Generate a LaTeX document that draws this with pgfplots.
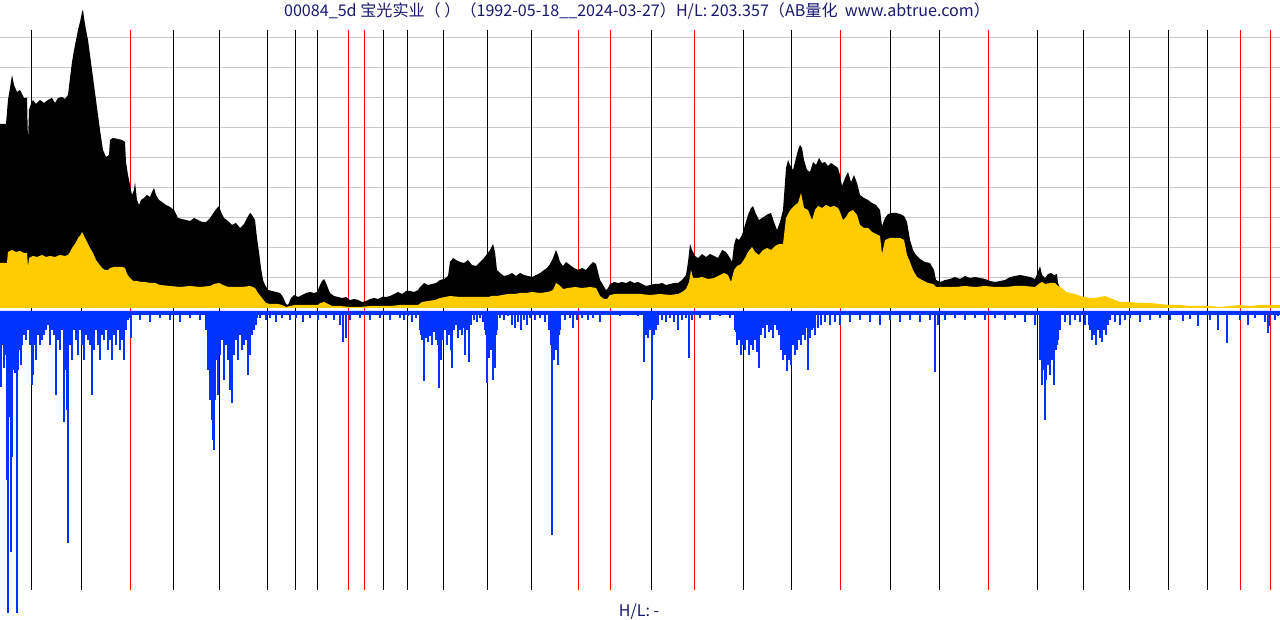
\documentclass[border=0pt]{standalone}
\usepackage{pgfplots}
\usepackage{pgfplotstable}
\pgfplotsset{compat=1.18}
\usepackage{fontspec}
\setmainfont{Noto Sans CJK SC}
\definecolor{ttl}{RGB}{25,25,112}
\definecolor{yel}{RGB}{255,204,0}
\definecolor{blu}{RGB}{0,51,255}
\definecolor{grd}{RGB}{200,200,200}
\definecolor{vred}{RGB}{255,0,0}

\pgfplotstableread{
x py
0 308
0 124
6 124
8 100
10 88
12 75
14 85
17 92
20 90
24 98
27 98
28 142
29 110
31 104
33 100
36 104
40 100
44 103
48 100
52 98
55 103
58 98
62 97
65 99
68 95
70 78
72 62
74 50
76 40
78 30
80 22
82 12
83 10
84 18
86 30
88 40
90 55
92 70
94 85
96 100
98 115
100 130
103 150
106 157
109 155
110 140
113 138
118 139
122 140
125 142
126 162
128 175
130 185
132 195
134 190
135 182
137 200
139 205
141 200
144 198
147 195
150 197
152 192
154 188
156 195
159 200
162 202
166 205
170 207
174 210
178 218
182 219
186 220
190 221
194 218
198 220
202 222
206 222
210 218
214 212
217 208
219 206
221 212
224 218
228 221
232 225
236 223
240 228
244 224
247 218
250 213
252 215
255 220
257 238
259 252
261 268
263 280
265 285
268 290
272 291
276 292
280 293
283 297
286 304
288 305
291 298
294 295
298 297
302 295
306 293
310 292
314 293
317 292
320 285
322 281
324 279
326 283
328 288
330 293
334 296
338 297
342 298
346 297
350 300
354 299
358 300
362 302
366 301
370 299
374 298
378 299
382 297
386 297
390 296
394 294
398 292
402 294
406 291
410 291
414 292
418 290
420 287
424 283
428 285
432 284
436 283
440 280
444 279
448 276
450 262
453 258
456 260
460 262
464 263
468 260
472 265
476 266
480 262
484 258
487 254
490 250
493 244
495 252
497 270
500 273
504 276
508 275
512 273
516 276
520 273
524 275
528 276
532 277
536 275
540 273
544 270
547 268
550 264
553 258
556 250
558 255
560 262
563 266
566 262
570 265
574 268
578 270
582 268
586 270
590 265
593 262
596 264
598 272
600 280
603 285
606 290
608 288
610 284
614 282
618 283
622 282
626 283
630 281
634 283
638 282
642 284
646 286
650 285
654 284
658 284
662 283
666 285
670 284
674 283
678 283
682 280
686 275
688 262
690 244
692 250
695 256
698 258
702 254
706 257
710 254
714 256
718 258
722 250
726 252
730 258
732 262
734 245
736 238
739 240
742 235
745 225
748 215
751 208
753 206
756 214
759 220
762 218
765 216
768 214
771 213
774 222
777 230
780 222
783 210
786 168
788 160
790 165
793 170
796 158
798 150
800 145
802 148
804 160
807 170
810 172
813 162
816 165
819 158
822 163
825 162
828 166
831 163
834 165
838 168
840 175
842 186
845 178
848 172
851 182
854 175
857 183
860 195
864 198
868 200
872 203
876 205
880 210
882 226
885 218
888 214
892 213
896 213
900 214
904 216
907 222
910 240
913 250
916 255
920 259
925 262
930 263
934 270
936 280
940 282
945 280
950 279
955 277
960 279
965 276
970 278
975 277
980 278
985 279
990 281
995 282
1000 281
1005 280
1010 277
1015 276
1020 275
1025 276
1030 277
1035 279
1038 272
1040 266
1042 275
1045 278
1048 274
1051 273
1054 275
1057 274
1058 283
1060 288
1060 308
}\hightable

\pgfplotstableread{
x py
0 308
0 263
7 263
8 252
12 250
16 252
20 251
24 253
27 253
28 267
29 258
33 256
37 257
42 255
46 257
50 256
55 257
60 255
65 256
68 255
70 252
72 248
75 244
78 238
80 236
82 232
84 236
86 240
88 244
90 248
93 253
96 260
99 264
102 268
105 270
108 270
110 268
114 267
118 267
122 267
125 268
127 274
130 278
133 281
137 281
141 282
145 282
150 283
155 283
160 285
170 286
180 287
190 286
200 287
210 286
214 284
219 283
223 285
228 287
235 287
242 287
250 286
255 288
258 293
262 298
266 303
270 304
278 304
282 305
286 307
290 306
295 305
300 305
310 305
318 305
320 303
324 302
328 304
332 306
340 306
350 307
360 307
370 306
380 306
390 306
400 305
410 305
418 305
422 302
428 301
435 300
440 298
445 297
450 296
460 297
470 297
480 297
488 297
492 296
497 296
502 295
508 294
515 294
520 293
526 293
532 292
540 293
548 292
553 290
556 283
559 285
563 289
568 288
575 287
582 288
590 287
596 288
600 296
604 299
607 299
610 295
615 294
622 294
630 294
640 294
650 295
660 294
670 295
678 294
682 292
686 289
689 282
691 270
693 278
697 278
702 277
708 279
714 278
720 275
724 273
728 275
731 282
734 270
737 266
741 264
745 258
748 252
752 247
755 252
759 255
763 250
767 248
771 250
775 246
779 244
783 244
786 218
789 212
792 208
795 205
798 203
801 193
804 208
808 210
812 220
815 210
818 206
822 208
826 205
830 207
834 206
838 208
840 212
843 220
846 217
849 212
853 210
857 215
860 225
864 228
868 228
872 232
876 234
880 236
882 254
885 240
890 238
895 238
900 238
904 240
907 255
910 262
913 270
917 277
922 280
928 283
933 284
936 287
945 287
955 287
965 286
975 287
985 286
995 287
1005 287
1015 286
1025 286
1035 287
1040 283
1042 282
1045 284
1050 283
1055 283
1058 286
1062 288
1066 292
1070 293
1075 294
1080 296
1085 297
1090 298
1095 298
1100 297
1105 296
1110 298
1115 300
1120 302
1130 302
1140 303
1150 303
1160 304
1170 305
1180 305
1190 306
1200 306
1210 306
1220 307
1230 306
1240 305
1250 306
1260 305
1270 305
1280 305
1280 308
}\lowtable

% dense part of the turnover bars (step envelope)
\pgfplotstableread{
x py
0 311
0 340
7 340
7 345
22 345
22 327
30 327
30 333
45 333
45 322
62 322
62 330
75 330
75 325
125 325
125 318
130 318
130 311
205 311
205 330
210 330
210 345
218 345
218 340
232 340
232 330
250 330
250 318
258 318
258 311
420 311
420 335
430 335
430 330
445 330
445 322
468 322
468 311
485 311
485 335
497 335
497 311
550 311
550 335
560 335
560 311
645 311
645 325
658 325
658 311
735 311
735 332
760 332
760 325
780 325
780 338
800 338
800 328
815 328
815 311
1040 311
1040 345
1058 345
1058 311
1088 311
1088 325
1106 325
1106 311
1280 311
}\envtable

\pgfplotstableread{
x py
0 350
1 387
2 345
3 343
4 368
5 345
6 355
7 480
8 613
9 417
10 375
11 552
12 457
13 370
14 360
15 373
16 362
17 613
18 370
19 350
20 337
21 365
22 345
24 335
26 340
28 330
30 345
32 385
33 375
34 345
36 360
38 335
40 345
42 340
44 335
46 330
48 325
50 345
52 330
54 335
56 395
58 340
60 350
62 330
64 422
66 370
67 410
68 543
70 345
72 360
74 330
76 340
78 355
80 330
82 345
84 360
86 335
88 340
90 345
92 395
94 350
96 330
98 345
100 360
102 335
104 340
106 330
108 350
110 340
112 360
114 335
116 345
118 330
120 350
122 340
124 360
126 330
128 320
131 338
140 320
150 322
160 318
170 320
180 322
190 318
200 320
208 370
210 400
211 380
212 420
213 440
214 450
215 400
216 360
218 395
220 355
222 340
224 380
226 345
228 360
230 390
232 403
234 355
236 340
238 360
240 335
242 350
244 345
246 340
248 375
250 355
252 335
254 330
256 325
260 318
266 320
270 318
276 322
282 318
290 320
296 318
303 322
310 318
318 320
326 318
334 320
340 325
343 342
346 338
350 320
360 318
370 320
380 318
390 320
400 318
404 320
408 316
412 322
416 318
420 330
422 340
424 381
426 338
428 342
430 336
432 345
434 332
436 340
438 345
439 388
441 360
443 340
445 330
447 345
449 335
451 350
452 368
454 330
456 325
458 338
460 330
462 335
464 328
465 355
467 330
469 362
471 325
474 320
477 322
480 318
483 322
485 330
487 383
489 358
491 350
493 380
495 368
497 330
500 318
504 320
508 316
512 325
515 328
518 322
521 330
524 320
527 325
530 318
535 320
540 318
545 322
549 330
551 345
552 535
554 360
556 350
558 365
560 330
565 320
570 318
573 328
577 320
582 318
588 320
593 318
600 322
610 315
620 316
630 315
638 316
644 362
646 335
648 338
650 330
652 400
654 335
656 330
658 325
662 320
666 322
670 318
674 322
678 330
682 320
686 318
689 358
692 320
700 318
710 320
720 316
730 318
735 330
737 345
739 340
741 355
743 345
745 350
747 340
749 355
751 345
753 350
755 340
757 352
759 368
761 335
763 328
765 338
767 325
769 332
771 330
773 338
775 325
777 330
779 335
781 350
783 360
785 355
787 371
789 360
791 365
793 345
795 355
797 350
799 340
801 345
803 335
805 340
808 370
810 338
812 330
815 335
818 328
821 325
825 322
830 325
835 322
840 325
850 322
860 320
870 322
880 325
890 320
900 322
910 320
920 322
930 320
935 372
938 325
945 320
955 318
965 320
975 318
985 320
995 318
1005 320
1015 318
1025 322
1035 325
1040 360
1042 385
1044 370
1045 420
1046 380
1048 365
1050 375
1052 360
1054 385
1056 350
1058 340
1060 330
1065 322
1070 325
1075 320
1080 322
1085 325
1090 330
1092 340
1094 335
1096 345
1098 330
1100 338
1102 342
1104 330
1106 335
1108 325
1110 320
1115 322
1120 325
1125 320
1130 318
1140 322
1150 320
1160 318
1170 320
1183 321
1190 319
1198 326
1210 320
1218 330
1227 343
1240 320
1248 325
1255 318
1265 322
1268 333
1269 326
1275 320
1278 316
}\voltable

\begin{document}
\begin{tikzpicture}
\path[use as bounding box] (0,0) rectangle (1280pt,620pt);
\fill[white] (0,0) rectangle (1280pt,620pt);
\begin{axis}[
  at={(0,0)}, anchor=south west, scale only axis,
  width=1280pt, height=620pt,
  xmin=0, xmax=1280, ymin=0, ymax=620, y dir=reverse,
  hide axis, clip=false,
]
% horizontal grid
\foreach \g in {38,68,98,128,158,188,218,248,278} {
  \edef\tmp{\noexpand\draw[grd, line width=1pt] (axis cs:0,\g) -- (axis cs:1280,\g);}
  \tmp
}
% vertical year lines
\foreach \v in {31,81,173,219,267,295,317,383,407,443,487,531,651,743,791,890,939,1037,1083,1129,1168,1207} {
  \edef\tmp{\noexpand\draw[black, line width=1pt] (axis cs:\v,30) -- (axis cs:\v,590);}
  \tmp
}
\foreach \v in {130,348,364,578,610,694,840,988,1240,1270} {
  \edef\tmp{\noexpand\draw[vred, line width=1pt] (axis cs:\v,30) -- (axis cs:\v,590);}
  \tmp
}
\addplot[fill=black, draw=none] table[x=x, y=py] {\hightable};
\addplot[fill=yel, draw=none] table[x=x, y=py] {\lowtable};
\node[anchor=base, text=ttl, font=\fontsize{16.1pt}{19pt}\selectfont] at (axis cs:637,17)
  {00084\_5d 宝光实业（ ）（1992-05-18\_\_2024-03-27）H/L: 203.357（AB量化\ \ www.abtrue.com）};
\node[anchor=base, text=ttl, font=\fontsize{16pt}{19pt}\selectfont] at (axis cs:639,616) {H/L: -};
\end{axis}
\begin{axis}[
  at={(0,0)}, anchor=south west, scale only axis,
  width=1280pt, height=309pt,
  xmin=0, xmax=1280, ymin=-309, ymax=0,
  hide axis,
]
\addplot[fill=blu, draw=none] coordinates {(0,0) (0,-4) (1280,-4) (1280,0)};
\addplot[fill=blu, draw=none] table[x=x, y expr={311-\thisrow{py}}] {\envtable};
\addplot[ycomb, blu, line width=1.3pt, mark=none] table[x=x, y expr={311-\thisrow{py}}] {\voltable};
\end{axis}
\end{tikzpicture}
\end{document}
